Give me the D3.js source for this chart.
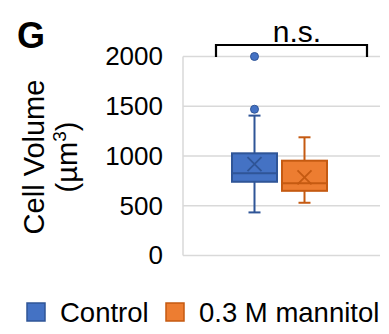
<!DOCTYPE html>
<html>
<head>
<meta charset="utf-8">
<script src="https://cdn.jsdelivr.net/npm/d3@7"></script>
<style>
  body { margin: 0; background: #fff; }
  svg text { font-family: "Liberation Sans", Arial, sans-serif; fill: #000; }
</style>
</head>
<body>
<div id="container"></div>
<script>
// box stats (um^3)
var series = ["Control", "0.3 M mannitol"];
var whiskerLow = [433, 530];
var q1 = [741, 650];
var median = [826, 725];
var q3 = [1027, 953];
var whiskerHigh = [1406, 1188];
var mean = [919, 785];
var outliers = [[1470, 2000], []];
var yTicks = [0, 500, 1000, 1500, 2000];

var fills = ["#4472C4", "#ED7D31"];
var strokes = ["#2F5597", "#C55A11"];

var width = 389, height = 334;
var margin = {top: 56.5, right: 9, bottom: 78.5, left: 183};

var svg = d3.select("#container").append("svg")
    .attr("width", width)
    .attr("height", height);

var y = d3.scaleLinear().domain([0, 2000]).range([height - margin.bottom, margin.top]);
var x = d3.scaleBand().domain(series).range([232, 327]).paddingInner(0.1);

// gridlines
svg.append("g").selectAll("line")
    .data(yTicks)
    .enter().append("line")
    .attr("x1", margin.left)
    .attr("x2", width - margin.right)
    .attr("y1", function(d) { return y(d); })
    .attr("y2", function(d) { return y(d); })
    .attr("stroke", "#d9d9d9")
    .attr("stroke-width", 1.5);

svg.append("line")
    .attr("x1", margin.left).attr("x2", margin.left)
    .attr("y1", y(2000)).attr("y2", y(0))
    .attr("stroke", "#d9d9d9")
    .attr("stroke-width", 1.5);

// tick labels
var yAxis = d3.axisLeft(y).tickValues(yTicks).tickSize(0).tickPadding(20)
    .tickFormat(d3.format("d"));
var ax = svg.append("g")
    .attr("transform", "translate(" + margin.left + ",0)")
    .call(yAxis);
ax.select(".domain").remove();
ax.selectAll("text")
    .attr("font-size", 26)
    .attr("fill", "#000")
    .style("font-family", "'Liberation Sans', Arial, sans-serif");

// boxes
var boxes = svg.append("g").selectAll("g")
    .data(series)
    .enter().append("g");

boxes.each(function(s, i) {
    var g = d3.select(this);
    var x0 = x(s), bw = x.bandwidth(), cx = x0 + bw / 2;
    var capW = 12;

    g.append("line")
        .attr("x1", cx).attr("x2", cx)
        .attr("y1", y(q3[i])).attr("y2", y(whiskerHigh[i]))
        .attr("stroke", strokes[i]).attr("stroke-width", 2);
    g.append("line")
        .attr("x1", cx).attr("x2", cx)
        .attr("y1", y(q1[i])).attr("y2", y(whiskerLow[i]))
        .attr("stroke", strokes[i]).attr("stroke-width", 2);
    [whiskerHigh[i], whiskerLow[i]].forEach(function(v) {
        g.append("line")
            .attr("x1", cx - capW / 2).attr("x2", cx + capW / 2)
            .attr("y1", y(v)).attr("y2", y(v))
            .attr("stroke", strokes[i]).attr("stroke-width", 2);
    });

    g.append("rect")
        .attr("x", x0).attr("width", bw)
        .attr("y", y(q3[i]))
        .attr("height", y(q1[i]) - y(q3[i]))
        .attr("fill", fills[i])
        .attr("stroke", strokes[i])
        .attr("stroke-width", 2);

    g.append("line")
        .attr("x1", x0).attr("x2", x0 + bw)
        .attr("y1", y(median[i])).attr("y2", y(median[i]))
        .attr("stroke", strokes[i]).attr("stroke-width", 2);

    // mean marker (x)
    var m = 7, my = y(mean[i]);
    g.append("path")
        .attr("d", "M" + (cx - m) + "," + (my - m) + "L" + (cx + m) + "," + (my + m) +
                   "M" + (cx - m) + "," + (my + m) + "L" + (cx + m) + "," + (my - m))
        .attr("stroke", strokes[i]).attr("stroke-width", 1.8).attr("fill", "none");

    g.selectAll("circle")
        .data(outliers[i])
        .enter().append("circle")
        .attr("cx", cx)
        .attr("cy", function(d) { return y(d); })
        .attr("r", 4)
        .attr("fill", fills[i])
        .attr("stroke", strokes[i])
        .attr("stroke-width", 1);
});

// significance bracket
var bY = 45, bY2 = 57;
svg.append("path")
    .attr("d", "M216," + bY2 + "V" + bY + "H367V" + bY2)
    .attr("fill", "none")
    .attr("stroke", "#000")
    .attr("stroke-width", 2.2);
svg.append("text")
    .attr("x", 297).attr("y", 41.5)
    .attr("text-anchor", "middle")
    .attr("font-size", 30)
    .text("n.s.");

// panel letter
svg.append("text")
    .attr("x", 17).attr("y", 48)
    .attr("font-size", 36)
    .attr("font-weight", "bold")
    .text("G");

// y title
var yt = svg.append("g").attr("transform", "translate(0,157) rotate(-90)");
yt.append("text")
    .attr("x", 0).attr("y", 44)
    .attr("text-anchor", "middle")
    .attr("font-size", 29)
    .text("Cell Volume");
var t2 = yt.append("text")
    .attr("x", 0).attr("y", 77)
    .attr("text-anchor", "middle")
    .attr("font-size", 29);
t2.append("tspan").text("(\u00b5m");
t2.append("tspan").attr("font-size", 19).attr("dy", -11).text("3");
t2.append("tspan").attr("dy", 11).text(")");

// legend
var legendX = [27, 166];
var lg = svg.append("g").selectAll("g")
    .data(series)
    .enter().append("g")
    .attr("transform", function(d, i) { return "translate(" + legendX[i] + ",303)"; });
lg.append("rect")
    .attr("width", 18).attr("height", 18)
    .attr("fill", function(d, i) { return fills[i]; })
    .attr("stroke", function(d, i) { return strokes[i]; })
    .attr("stroke-width", 1.5);
lg.append("text")
    .attr("x", 33).attr("y", 19)
    .attr("font-size", 27.5)
    .text(function(d) { return d; });
</script>
</body>
</html>
